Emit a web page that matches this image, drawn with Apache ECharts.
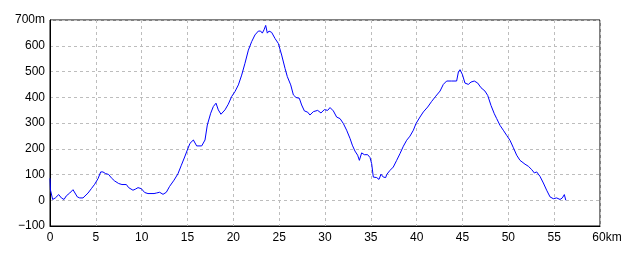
<!DOCTYPE html>
<html><head><meta charset="utf-8">
<script src="https://cdn.jsdelivr.net/npm/echarts@6/dist/echarts.min.js"></script>
<style>html,body{margin:0;padding:0;background:#fff}#c{width:640px;height:256px}</style>
</head><body><div id="c"></div>
<script>
const distanceKm = [0,0.05,0.29,0.58,0.95,1.24,1.53,1.78,2.15,2.51,2.69,2.98,3.24,3.6,3.78,4.15,4.51,4.87,5.24,5.53,5.78,6.04,6.4,6.69,7.05,7.49,7.85,8.33,8.58,9.05,9.31,9.6,9.96,10.33,10.69,11.35,11.6,11.96,12.33,12.69,13.05,13.53,13.96,14.33,14.69,14.98,15.27,15.64,16.0,16.55,16.91,17.16,17.53,17.82,18.11,18.36,18.65,19.09,19.45,19.82,20.18,20.55,20.91,21.27,21.64,22.0,22.36,22.73,22.98,23.16,23.35,23.53,23.71,23.89,24.18,24.55,24.91,25.27,25.64,25.89,26.26,26.55,26.84,27.2,27.45,27.75,28.11,28.36,28.73,29.2,29.56,29.93,30.29,30.55,30.91,31.27,31.64,32.0,32.36,32.73,32.98,33.27,33.56,33.75,34.0,34.29,34.65,34.91,35.09,35.27,35.64,35.89,36.11,36.36,36.62,36.73,37.09,37.45,37.82,38.18,38.55,38.91,39.27,39.64,39.93,40.36,40.73,41.2,41.64,42.08,42.55,42.91,43.27,43.82,44.36,44.55,44.73,44.98,45.27,45.64,45.93,46.29,46.66,47.02,47.45,47.75,48.11,48.47,48.73,49.09,49.45,49.82,50.18,50.55,50.91,51.27,51.82,52.18,52.55,52.84,53.09,53.45,53.82,54.18,54.55,54.91,55.27,55.64,55.89,56.11,56.27];
const elevationM = [85,40,3,9,22,9,3,17,28,41,39,13,9,9,13,28,45,62,84,110,110,104,100,87,75,65,61,61,49,39,43,49,45,30,26,26,28,31,23,31,54,78,103,136,168,195,221,234,211,211,234,292,338,364,377,351,334,351,373,403,422,448,486,532,583,616,642,657,657,649,662,679,649,657,652,628,609,564,512,480,448,409,399,396,370,347,342,331,344,349,339,352,349,360,347,323,317,298,272,240,214,191,175,155,184,177,177,166,142,90,88,81,101,90,88,100,116,129,155,181,210,233,249,272,298,323,343,362,384,404,424,450,463,463,463,498,507,489,455,450,459,463,455,437,424,407,368,336,317,291,272,252,233,204,175,155,140,132,119,106,110,93,67,39,13,6,9,3,9,22,0];
const xUnit = 'km';
const yUnit = 'm';

const points = distanceKm.map((d, i) => [d, elevationM[i]]);
const font = 'Liberation Sans';
const chart = echarts.init(document.getElementById('c'), null, {renderer: 'canvas'});
chart.setOption({
  animation: false,
  backgroundColor: '#fff',
  grid: {left: 50, right: 40, top: 20, bottom: 30, show: true, borderColor: '#000', borderWidth: 1, backgroundColor: '#fff'},
  xAxis: {
    type: 'value', min: 0, max: 60, interval: 5,
    axisLine: {show: true, onZero: false, lineStyle: {color: '#000', width: 1}},
    axisTick: {show: false},
    splitLine: {show: true, lineStyle: {color: '#bdbdbd', type: [3, 3], width: 1}},
    axisLabel: {
      color: '#000', fontFamily: font, fontSize: 12, margin: 6,
      formatter: v => v === 60 ? '{k|60' + xUnit + '}' : String(v),
      rich: {k: {color: '#000', fontFamily: font, fontSize: 12, padding: [0, 0, 0, 14]}}
    }
  },
  yAxis: {
    type: 'value', min: -100, max: 700, interval: 100,
    axisLine: {show: true, onZero: false, lineStyle: {color: '#000', width: 1}},
    axisTick: {show: false},
    splitLine: {show: true, lineStyle: {color: '#bdbdbd', type: [3, 3], width: 1}},
    axisLabel: {
      color: '#000', fontFamily: font, fontSize: 12, margin: 5,
      formatter: v => v === 700 ? '700' + yUnit : String(v).replace('-', '\u2212')
    }
  },
  series: [{
    type: 'line', data: points, showSymbol: false, symbol: 'none',
    lineStyle: {color: '#0000ff', width: 1}, smooth: false
  }]
});
</script></body></html>
